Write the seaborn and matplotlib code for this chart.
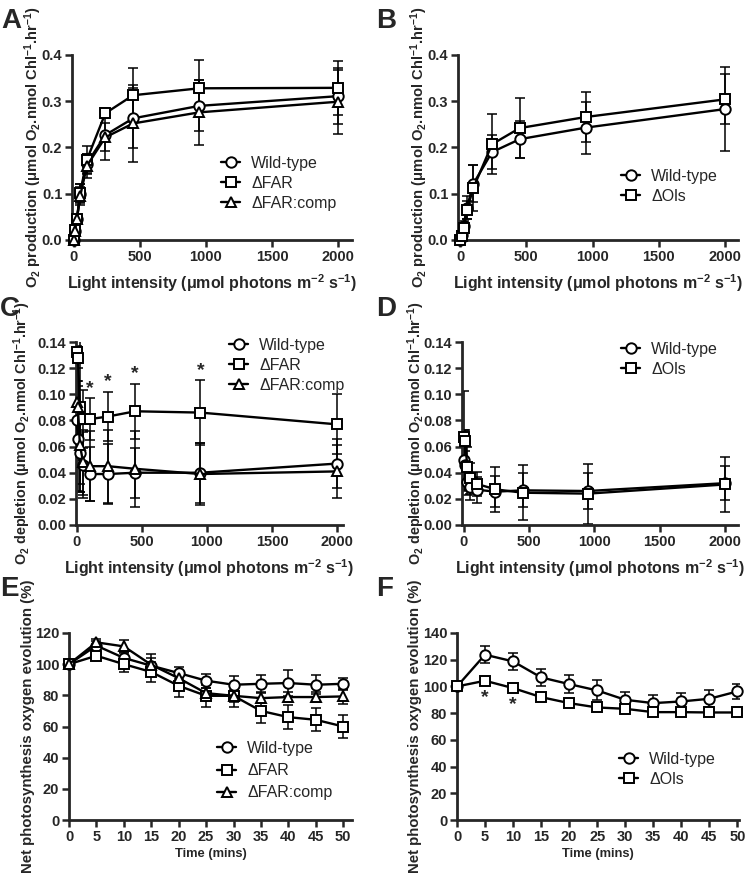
import numpy as np
import pandas as pd
import matplotlib
matplotlib.use("Agg")
import matplotlib.pyplot as plt
import seaborn as sns

# light response curves (panels A-D)
light = [0, 10, 25, 50, 100, 240, 450, 950, 2000]

a_wt = [0.0, 0.02, 0.045, 0.1, 0.165, 0.227, 0.263, 0.29, 0.311]
a_wt_err = [0.002, 0.005, 0.01, 0.02, 0.02, 0.055, 0.065, 0.055, 0.06]
a_far = [0.0, 0.022, 0.045, 0.102, 0.173, 0.274, 0.313, 0.328, 0.329]
a_far_err = [0.002, 0.005, 0.01, 0.02, 0.03, 0.011, 0.058, 0.061, 0.058]
a_comp = [0.0, 0.02, 0.045, 0.095, 0.16, 0.222, 0.252, 0.276, 0.299]
a_comp_err = [0.002, 0.005, 0.01, 0.02, 0.025, 0.03, 0.083, 0.07, 0.069]

b_wt = [0.0, 0.01, 0.03, 0.07, 0.122, 0.19, 0.218, 0.243, 0.283]
b_wt_err = [0.002, 0.005, 0.01, 0.025, 0.04, 0.037, 0.04, 0.056, 0.091]
b_ols = [0.0, 0.008, 0.025, 0.065, 0.113, 0.207, 0.242, 0.266, 0.304]
b_ols_err = [0.002, 0.005, 0.01, 0.02, 0.05, 0.065, 0.064, 0.055, 0.054]

c_wt = [0.08, 0.066, 0.055, 0.046, 0.039, 0.039, 0.04, 0.04, 0.047]
c_wt_err = [0.03, 0.04, 0.03, 0.025, 0.021, 0.023, 0.019, 0.023, 0.019]
c_far = [0.132, 0.128, 0.09, 0.081, 0.081, 0.083, 0.087, 0.086, 0.077]
c_far_err = [0.005, 0.008, 0.065, 0.022, 0.016, 0.019, 0.021, 0.025, 0.023]
c_comp = [0.094, 0.09, 0.061, 0.048, 0.045, 0.045, 0.043, 0.039, 0.041]
c_comp_err = [0.03, 0.02, 0.03, 0.025, 0.027, 0.028, 0.029, 0.024, 0.02]
c_star_x = [100, 240, 450, 950]

d_wt = [0.05, 0.046, 0.033, 0.029, 0.027, 0.0255, 0.0265, 0.026, 0.032]
d_wt_err = [0.023, 0.02, 0.01, 0.01, 0.01, 0.012, 0.013, 0.014, 0.013]
d_ols = [0.0676, 0.0645, 0.0446, 0.0357, 0.0314, 0.0273, 0.0247, 0.024, 0.031]
d_ols_err = [0.035, 0.008, 0.015, 0.012, 0.009, 0.017, 0.021, 0.023, 0.021]

# time courses (panels E-F)
time = [0, 5, 10, 15, 20, 25, 30, 35, 40, 45, 50]

e_wt = [100, 111.9, 104, 99, 94.3, 89.4, 86.8, 87.4, 87.9, 86.8, 87.4]
e_wt_err = [0, 3, 4, 5, 4, 4.5, 5.5, 5.5, 8.5, 6, 4]
e_far = [100, 105.4, 100, 95, 86.1, 79.7, 79.7, 70, 66, 64.3, 60]
e_far_err = [0, 2, 5, 6.5, 7, 7, 7, 8, 7.5, 7.5, 7.5]
e_comp = [100, 114, 111.4, 99.6, 91, 81.4, 79.7, 78.2, 78.9, 78.9, 79.3]
e_comp_err = [0, 2, 4, 7, 4, 3, 4, 3, 3, 3, 5]

f_wt = [100, 123.75, 118.75, 106.75, 101.75, 97, 90, 87.5, 88.75, 90.75, 96.25]
f_wt_err = [0, 6.5, 6.5, 6.5, 7, 7.5, 6, 6, 6.5, 6.5, 5.5]
f_ols = [100, 104.25, 98.75, 92, 87.5, 84.25, 83.25, 80.75, 80.75, 80.5, 80.5]
f_ols_err = [0, 1.5, 1.5, 1.5, 1.5, 1.5, 1.5, 1.5, 1.5, 1.5, 1.5]
f_star_x = [5, 10]

sns.set_style("ticks")
plt.rcParams["font.family"] = ["Liberation Sans", "DejaVu Sans"]
plt.rcParams["mathtext.fontset"] = "custom"
plt.rcParams["mathtext.rm"] = "Liberation Sans:bold"
plt.rcParams["mathtext.bf"] = "Liberation Sans:bold"
plt.rcParams["mathtext.default"] = "bf"

W, H = 751, 884
fig = plt.figure(figsize=(W / 100, H / 100), dpi=100)


def make_ax(left, right, top, bottom):
    return fig.add_axes([left / W, 1 - bottom / H, (right - left) / W, (bottom - top) / H])


def draw(ax, x, series):
    for label, y, err, marker in series:
        ax.errorbar(x, y, yerr=err, fmt="none", ecolor="black", elinewidth=1.1,
                    capsize=3.5, capthick=1.1, zorder=2, clip_on=True)
    for label, y, err, marker in series:
        sns.lineplot(x=x, y=y, ax=ax, color="black", marker=marker, markersize=7.5,
                     markerfacecolor="white", markeredgecolor="black",
                     markeredgewidth=1.4, linewidth=1.7, label=label, zorder=3,
                     clip_on=False)


def style(ax, xlim, ylim, xticks, yticks, yfmt):
    ax.set_xlim(*xlim)
    ax.set_ylim(*ylim)
    ax.set_xticks(xticks)
    ax.set_yticks(yticks)
    ax.set_yticklabels([yfmt.format(v) for v in yticks])
    ax.set_xticklabels([str(v) for v in xticks])
    sns.despine(ax=ax)
    for s in ["left", "bottom"]:
        ax.spines[s].set_linewidth(2)
    ax.tick_params(direction="out", length=5, width=1.8, labelsize=10.5, pad=2)
    for lbl in ax.get_xticklabels() + ax.get_yticklabels():
        lbl.set_fontweight("bold")


def legend(ax, x, y, spacing=0.3):
    ax.legend(frameon=False, loc="upper left", bbox_to_anchor=(x / W, 1 - y / H),
              bbox_transform=fig.transFigure, borderpad=0, borderaxespad=0,
              handlelength=1.2, handletextpad=0.7, labelspacing=spacing,
              prop={"size": 11.5, "weight": "normal"})


light_label = "Light intensity (μmol photons m$^{-2}$ s$^{-1}$)"
prod_label = "O$_2$ production (μmol O$_2$.nmol Chl$^{-1}$.hr$^{-1}$)"
depl_label = "O$_2$ depletion (μmol O$_2$.nmol Chl$^{-1}$.hr$^{-1}$)"
net_label = "Net photosynthesis oxygen evolution (%)"

# A
axA = make_ax(72, 352, 55, 240)
draw(axA, light, [("Wild-type", a_wt, a_wt_err, "o"),
                  ("ΔFAR", a_far, a_far_err, "s"),
                  ("ΔFAR:comp", a_comp, a_comp_err, "^")])
style(axA, (-12, 2105), (0, 0.4), [0, 500, 1000, 1500, 2000],
      [0.0, 0.1, 0.2, 0.3, 0.4], "{:.1f}")
legend(axA, 221, 156)

# B
axB = make_ax(458, 738, 55, 240)
draw(axB, light, [("Wild-type", b_wt, b_wt_err, "o"),
                  ("ΔOls", b_ols, b_ols_err, "s")])
style(axB, (-17, 2100), (0, 0.4), [0, 500, 1000, 1500, 2000],
      [0.0, 0.1, 0.2, 0.3, 0.4], "{:.1f}")
legend(axB, 621, 169)

# C
axC = make_ax(76, 343, 342, 525)
draw(axC, light, [("Wild-type", c_wt, c_wt_err, "o"),
                  ("ΔFAR", c_far, c_far_err, "s"),
                  ("ΔFAR:comp", c_comp, c_comp_err, "^")])
style(axC, (-5, 2045), (0, 0.14), [0, 500, 1000, 1500, 2000],
      [0.0, 0.02, 0.04, 0.06, 0.08, 0.10, 0.12, 0.14], "{:.2f}")
legend(axC, 229, 338)
for xs in c_star_x:
    i = light.index(xs)
    axC.text(xs, c_far[i] + c_far_err[i] + 0.001, "*", ha="center", va="bottom",
             fontsize=14, fontweight="bold")

# D
axD = make_ax(462, 738, 342, 525)
draw(axD, light, [("Wild-type", d_wt, d_wt_err, "o"),
                  ("ΔOls", d_ols, d_ols_err, "s")])
style(axD, (-15, 2100), (0, 0.14), [0, 500, 1000, 1500, 2000],
      [0.0, 0.02, 0.04, 0.06, 0.08, 0.10, 0.12, 0.14], "{:.2f}")
legend(axD, 621, 342)

# E
axE = make_ax(69, 352, 633, 820)
draw(axE, time, [("Wild-type", e_wt, e_wt_err, "o"),
                 ("ΔFAR", e_far, e_far_err, "s"),
                 ("ΔFAR:comp", e_comp, e_comp_err, "^")])
style(axE, (0, 51.6), (0, 120), time, [0, 20, 40, 60, 80, 100, 120], "{:d}")
legend(axE, 217, 741, spacing=0.45)

# F
axF = make_ax(457, 739, 633, 820)
draw(axF, time, [("Wild-type", f_wt, f_wt_err, "o"),
                 ("ΔOls", f_ols, f_ols_err, "s")])
style(axF, (0, 50.3), (0, 140), time, [0, 20, 40, 60, 80, 100, 120, 140], "{:d}")
legend(axF, 619, 752)
for xs in f_star_x:
    i = time.index(xs)
    axF.text(xs, f_ols[i] - 6, "*", ha="center", va="top", fontsize=14,
             fontweight="bold")

for ax in [axA, axB, axC, axD]:
    ax.set_xlabel(light_label, fontsize=11.5, fontweight="bold", labelpad=6)
for ax in [axA, axB]:
    ax.set_ylabel(prod_label, fontsize=10.6, fontweight="bold")
for ax in [axC, axD]:
    ax.set_ylabel(depl_label, fontsize=10.4, fontweight="bold")
for ax in [axE, axF]:
    ax.set_xlabel("Time (mins)", fontsize=9.3, fontweight="bold", labelpad=3)
    ax.set_ylabel(net_label, fontsize=10.8, fontweight="bold")

# right edge of each y label, in figure pixels
for ax, edge in [(axA, 44), (axB, 430), (axC, 33), (axD, 427), (axE, 35), (axF, 422)]:
    x0 = ax.get_position().x0 * W
    w = ax.get_position().width * W
    ax.yaxis.set_label_coords((edge - x0) / w, 0.5)

for letter, x, y in [("A", 1, 8), ("B", 376, 8), ("C", 0, 296),
                     ("D", 376, 296), ("E", 0, 576), ("F", 376, 576)]:
    fig.text(x / W, 1 - y / H, letter, fontsize=20, fontweight="bold",
             ha="left", va="top")

fig.savefig("out.png", dpi=100)
